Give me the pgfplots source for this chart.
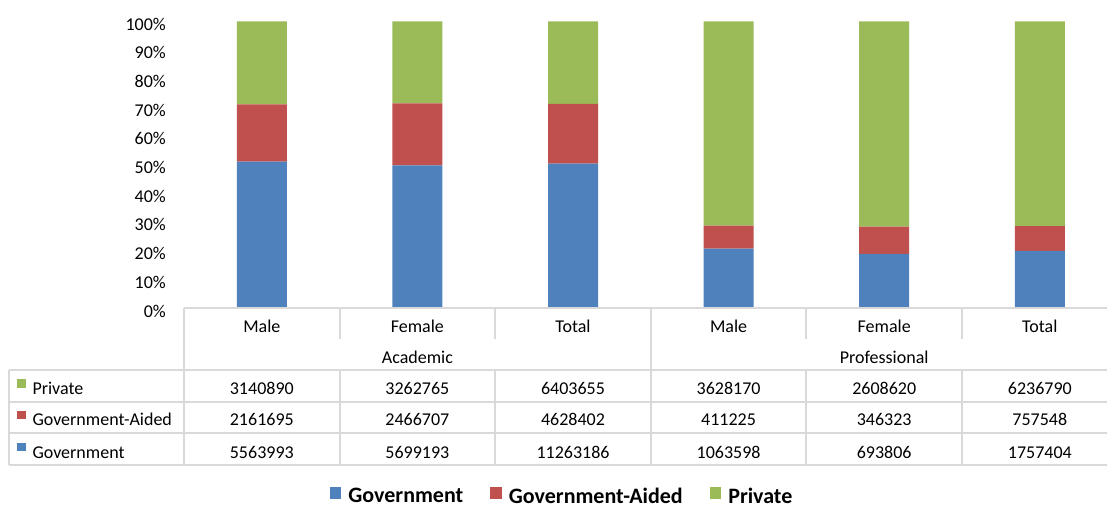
\documentclass[border=0pt]{standalone}
\usepackage{fontspec}
\setmainfont{Carlito}
\usepackage{pgfplots}
\pgfplotsset{compat=1.18}
\definecolor{cgov}{HTML}{4F81BD}
\definecolor{caid}{HTML}{C0504D}
\definecolor{cpri}{HTML}{9BBB59}
\definecolor{tgrid}{HTML}{D9D9D9}
\begin{document}
\begin{tikzpicture}[x=1pt,y=1pt]
\useasboundingbox (0,0) rectangle (1107,508);
\begin{axis}[
  at={(184pt,199.5pt)}, anchor=south west,
  scale only axis, width=933.6pt, height=287pt,
  xmin=-0.5, xmax=5.5, ymin=0, ymax=100,
  ybar stacked, bar width=50pt,
  axis line style={draw=none},
  xtick=\empty,
  ytick={0,10,...,100},
  yticklabel={\pgfmathprintnumber{\tick}\%},
  major tick length=0pt,
  /pgf/number format/assume math mode=true,
  tick label style={font=\fontsize{18}{21}\selectfont},
  yticklabel style={anchor=east, inner sep=0pt, xshift=-18pt, yshift=-2.5pt},
  clip=false,
  legend style={at={(0.405,-0.655)}, anchor=center, draw=none, fill=none,
    legend columns=3, font=\fontsize{22}{25}\selectfont\bfseries,
    /tikz/every even column/.append style={column sep=25pt}},
  legend image code/.code={\fill[#1,draw=none] (0pt,-2.3pt) rectangle (11.6pt,9.3pt); \path (16.6pt,0pt);},
]
\addplot[fill=cgov, draw=none] coordinates {(0,51.203) (1,49.868) (2,50.518) (3,20.843) (4,19.015) (5,20.081)};
\addplot[fill=caid, draw=none] coordinates {(0,19.893) (1,21.584) (2,20.760) (3,8.059) (4,9.492) (5,8.656)};
\addplot[fill=cpri, draw=none] coordinates {(0,28.904) (1,28.548) (2,28.722) (3,71.098) (4,71.493) (5,71.263)};
\legend{Government, Government-Aided, Private}
\end{axis}
% data table
\begin{scope}[tgrid, line width=2pt]
\draw (184,199.5) -- (1107,199.5);
\foreach \yy in {138,106.3,74.7,43} \draw (9,\yy) -- (1107,\yy);
\draw (9,138) -- (9,43);
\draw (184,199.5) -- (184,43);
\draw (650.8,199.5) -- (650.8,43);
\foreach \xx in {339.6,495.2,806.4,962} {
  \draw (\xx,199.5) -- (\xx,169);
  \draw (\xx,138) -- (\xx,43);
}
\end{scope}
\begin{scope}[every node/.style={font=\fontsize{18}{21}\selectfont, inner sep=0pt, anchor=base}]
\foreach \xx/\t in {261.8/Male,417.4/Female,573.0/Total,728.6/Male,884.2/Female,1039.8/Total}
  \node at (\xx,175.7) {\t};
\node at (417.4,144.7) {Academic};
\node at (884.2,144.7) {Professional};
\fill[cpri] (17.3,120.3) rectangle (26,129);
\fill[caid] (17.3,88.6) rectangle (26,97.3);
\fill[cgov] (17.3,56.5) rectangle (26,65.2);
\node[anchor=base west] at (32.3,113.7) {Private};
\node[anchor=base west] at (32.3,82) {Government-Aided};
\node[anchor=base west] at (32.3,49.7) {Government};
\foreach \xx/\a/\b/\c in {261.8/3140890/2161695/5563993, 417.4/3262765/2466707/5699193, 573.0/6403655/4628402/11263186, 728.6/3628170/411225/1063598, 884.2/2608620/346323/693806, 1039.8/6236790/757548/1757404} {
  \node at (\xx,113.7) {\a};
  \node at (\xx,82) {\b};
  \node at (\xx,49.7) {\c};
}
\end{scope}
\end{tikzpicture}
\end{document}
